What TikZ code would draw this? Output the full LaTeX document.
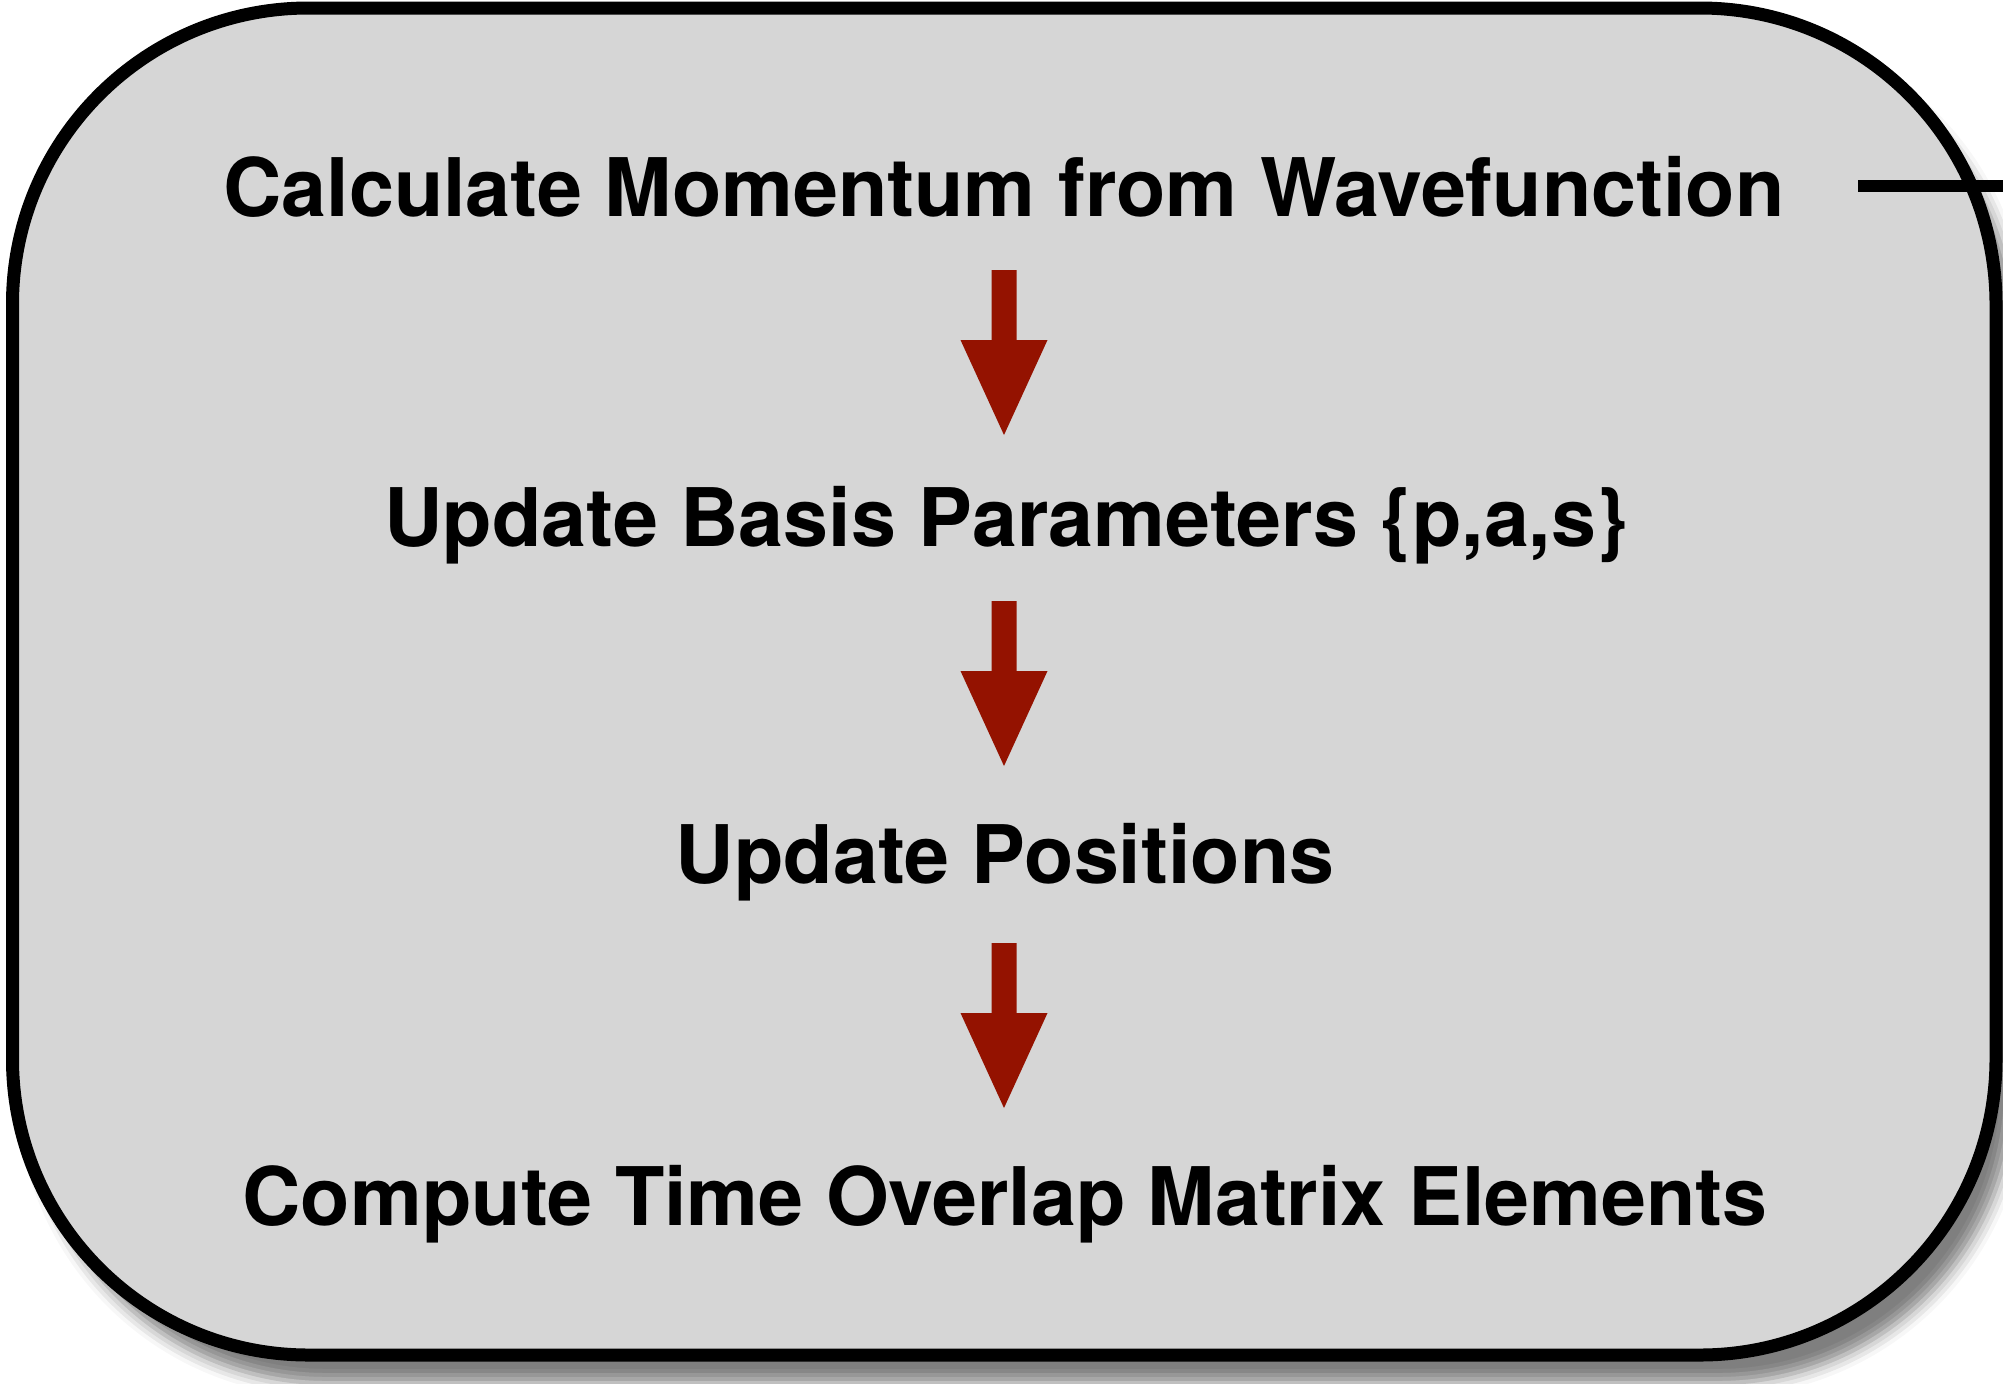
\documentclass[tikz,border=0pt]{standalone}
\usepackage{fontspec}
\setmainfont{TeX Gyre Heros}
\usetikzlibrary{shadows.blur}

\definecolor{panelgray}{RGB}{214,214,214}
\definecolor{flowred}{RGB}{148,18,0}

\tikzset{
  panel/.style={draw=black, line width=6.5pt, fill=panelgray,
    rounded corners=148pt,
    blur shadow={shadow xshift=9pt, shadow yshift=-14pt,
                 shadow blur radius=7pt, shadow opacity=50}},
  steplabel/.style={font=\fontsize{40.4}{48}\selectfont\bfseries,
    anchor=base, inner sep=0pt},
  loopline/.style={draw=black, line width=6pt},
  pics/downarrow/.style={code={
    \fill[flowred] (-12.5,0) -- (12.5,0) -- (12.5,70) -- (43.5,70)
      -- (0,165) -- (-43.5,70) -- (-12.5,70) -- cycle;
  }}
}

\begin{document}
\begin{tikzpicture}[x=0.5pt,y=-0.5pt]
\useasboundingbox (0,0) rectangle (2003,1383);

% rounded panel holding the update loop
\draw[panel] (12.5,8) rectangle (1996,1355);

% the four steps
\node[steplabel] (calc)   at (1004,216)  {Calculate Momentum from Wavefunction};
\node[steplabel] (basis)  at (1006,546)  {Update Basis Parameters \{p,a,s\}};
\node[steplabel] (pos)    at (1005,883)  {Update Positions};
\node[steplabel] (overlap) at (1005,1225) {Compute Time Overlap Matrix Elements};

% block arrows between the steps
\coordinate (a1) at (1004,270);
\coordinate (a2) at (1004,601);
\coordinate (a3) at (1004,943);
\pic at (a1) {downarrow};
\pic at (a2) {downarrow};
\pic at (a3) {downarrow};

% line leaving the panel to the right
\coordinate (loopstart) at (1858,186);
\coordinate (loopexit)  at (2003,186);
\draw[loopline] (loopstart) -- (loopexit);
\end{tikzpicture}
\end{document}
